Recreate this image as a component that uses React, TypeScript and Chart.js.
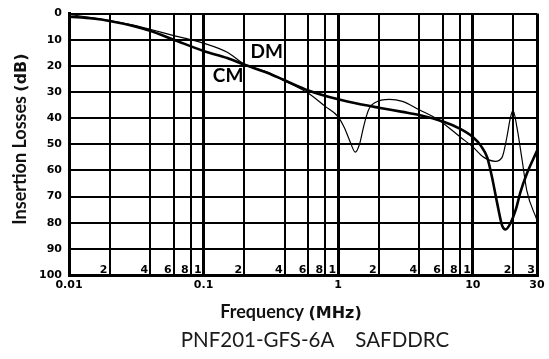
import React, { useEffect, useRef } from 'react';
import { Chart, registerables } from 'chart.js';

Chart.register(...registerables);

// ---- Data (frequency in MHz, insertion loss in dB) ----
const cmFreq = [0.01, 0.015, 0.02, 0.03, 0.04, 0.06, 0.1, 0.15, 0.2, 0.3, 0.4, 0.6, 1, 1.5, 2, 3, 4, 6, 8, 10, 11.5, 12.8, 13.9, 15.2, 16.5, 17.5, 19, 21, 22.6, 25.2, 30];
const cmLoss = [1.2, 1.9, 2.8, 4.7, 6.6, 10, 14.3, 17.0, 19.5, 22.7, 25.5, 29.4, 32.8, 34.8, 36, 37.6, 38.8, 41.3, 44, 47.2, 50.6, 55, 62.6, 72.7, 81, 82.6, 80.3, 74.5, 68.3, 61.3, 52.5];

const dmFreq = [0.01, 0.015, 0.02, 0.03, 0.04, 0.06, 0.1, 0.15, 0.2, 0.3, 0.4, 0.6, 0.8, 1, 1.11, 1.22, 1.34, 1.44, 1.53, 1.62, 1.71, 1.87, 2.4, 3, 4, 5.5, 8.2, 10, 12.1, 14.7, 16.5, 17.9, 19, 19.9, 21.3, 23.3, 25.2, 30];
const dmLoss = [0.3, 1.6, 2.7, 4.4, 6, 8.4, 11.3, 14.8, 19.3, 22.5, 25.8, 30.5, 35.5, 39.5, 43.6, 48.7, 53, 50, 44.2, 39.2, 36, 34.1, 32.8, 33.6, 36.8, 40.5, 47.5, 51, 55, 56.5, 55, 47.4, 40, 37, 43.6, 56.3, 67.7, 79];

// ---- Axes ----
const gridFreqs = [0.01, 0.02, 0.04, 0.06, 0.08, 0.1, 0.2, 0.4, 0.6, 0.8, 1, 2, 4, 6, 8, 10, 20, 30];
const decadeFreqs = [0.01, 0.1, 1, 10, 30];
const majorTickValues = [0.01, 0.1, 1, 10, 30];
const majorTickLabels = ['0.01', '0.1', '1', '10', '30'];
const innerTickValues = [0.02, 0.04, 0.06, 0.08, 0.1, 0.2, 0.4, 0.6, 0.8, 1, 2, 4, 6, 8, 10, 20, 30];
const innerTickLabels = ['2', '4', '6', '8', '1', '2', '4', '6', '8', '1', '2', '4', '6', '8', '1', '2', '3'];

// ---- Texts ----
const seriesNames = ['CM', 'DM'];
const seriesLabelFreq = [0.152, 0.294];
const seriesLabelLoss = [24, 14.8];
const yTitleParts = ['Insertion Losses ', '(dB)'];
const xTitleParts = ['Frequency ', '(MHz)'];
const caption = 'PNF201-GFS-6A    SAFDDRC';

const same = (a: number, b: number) => Math.abs(a - b) / b < 1e-6;

function drawParts(ctx: CanvasRenderingContext2D, parts: { t: string; f: string }[], cx: number, baseline: number) {
  let total = 0;
  const widths = parts.map((p) => {
    ctx.font = p.f;
    const w = ctx.measureText(p.t).width;
    total += w;
    return w;
  });
  let x = cx - total / 2;
  ctx.textAlign = 'left';
  ctx.textBaseline = 'alphabetic';
  parts.forEach((p, i) => {
    ctx.font = p.f;
    ctx.fillText(p.t, x, baseline);
    x += widths[i];
  });
}

const textPlugin = {
  id: 'chartTexts',
  afterDraw(chart: any) {
    const { ctx, chartArea, scales } = chart;
    const xs = scales.x;
    const ys = scales.y;
    ctx.save();
    ctx.fillStyle = '#000';

    // inner minor tick labels
    ctx.font = 'bold 11px "DejaVu Sans"';
    ctx.textAlign = 'right';
    ctx.textBaseline = 'alphabetic';
    innerTickValues.forEach((v, i) => {
      ctx.fillText(innerTickLabels[i], xs.getPixelForValue(v) - 2, chartArea.bottom - 2);
    });

    // series labels
    ctx.font = 'bold 19px Lato';
    ctx.textAlign = 'center';
    ctx.textBaseline = 'middle';
    seriesNames.forEach((n, i) => {
      ctx.fillText(n, xs.getPixelForValue(seriesLabelFreq[i]), ys.getPixelForValue(seriesLabelLoss[i]));
    });

    // y title (rotated)
    ctx.save();
    ctx.translate(20, 139);
    ctx.rotate(-Math.PI / 2);
    ctx.fillStyle = '#111';
    drawParts(ctx, [
      { t: yTitleParts[0], f: 'bold 18px Lato' },
      { t: yTitleParts[1], f: 'bold 16px "DejaVu Sans"' },
    ], 0, 6);
    ctx.restore();

    // x title
    ctx.fillStyle = '#111';
    drawParts(ctx, [
      { t: xTitleParts[0], f: 'bold 18px Lato' },
      { t: xTitleParts[1], f: 'bold 16px "DejaVu Sans"' },
    ], 291, 318);

    // caption
    ctx.fillStyle = '#1a1a1a';
    drawParts(ctx, [{ t: caption, f: '20.5px Lato' }], 315, 347);

    ctx.restore();
  },
};

export default function App() {
  const ref = useRef<HTMLCanvasElement>(null);
  useEffect(() => {
    document.body.style.margin = '0';
    const chart = new Chart(ref.current as HTMLCanvasElement, {
      type: 'line',
      data: {
        datasets: [
          {
            label: 'CM',
            data: cmFreq.map((f, i) => ({ x: f, y: cmLoss[i] })),
            borderColor: '#000',
            borderWidth: 2.6,
            pointRadius: 0,
            fill: false,
            cubicInterpolationMode: 'monotone',
          },
          {
            label: 'DM',
            data: dmFreq.map((f, i) => ({ x: f, y: dmLoss[i] })),
            borderColor: '#000',
            borderWidth: 1.2,
            pointRadius: 0,
            fill: false,
            cubicInterpolationMode: 'monotone',
          },
        ],
      },
      options: {
        animation: false,
        responsive: false,
        devicePixelRatio: 1,
        events: [],
        layout: { padding: { top: 12, right: 12, left: 0, bottom: 0 } },
        plugins: { legend: { display: false }, tooltip: { enabled: false }, title: { display: false } },
        scales: {
          x: {
            type: 'logarithmic',
            min: 0.01,
            max: 30,
            afterBuildTicks: (scale: any) => {
              scale.ticks = gridFreqs.map((v) => ({ value: v }));
            },
            afterFit: (scale: any) => {
              scale.height = 84;
            },
            grid: {
              color: '#000',
              drawTicks: false,
              lineWidth: (c: any) => (c.tick && decadeFreqs.some((d) => same(c.tick.value, d)) ? 3 : 2),
            },
            border: { display: true, color: '#000', width: 3 },
            ticks: {
              autoSkip: false,
              maxRotation: 0,
              minRotation: 0,
              padding: 4,
              color: '#000',
              font: { family: '"DejaVu Sans"', size: 11, weight: 'bold' },
              callback: (value: any) => {
                const idx = majorTickValues.findIndex((m) => same(Number(value), m));
                return idx >= 0 ? majorTickLabels[idx] : '';
              },
            },
          },
          y: {
            type: 'linear',
            reverse: true,
            min: 0,
            max: 100,
            afterFit: (scale: any) => {
              scale.width = 69;
            },
            grid: { color: '#000', drawTicks: false, lineWidth: 2 },
            border: { display: true, color: '#000', width: 3 },
            ticks: {
              stepSize: 10,
              padding: 7,
              color: '#000',
              font: { family: '"DejaVu Sans"', size: 11, weight: 'bold' },
            },
          },
        },
      },
      plugins: [textPlugin],
    } as any);
    return () => chart.destroy();
  }, []);
  return (
    <div style={{ width: 549, height: 359 }}>
      <canvas ref={ref} width={549} height={359} style={{ display: 'block' }} />
    </div>
  );
}
